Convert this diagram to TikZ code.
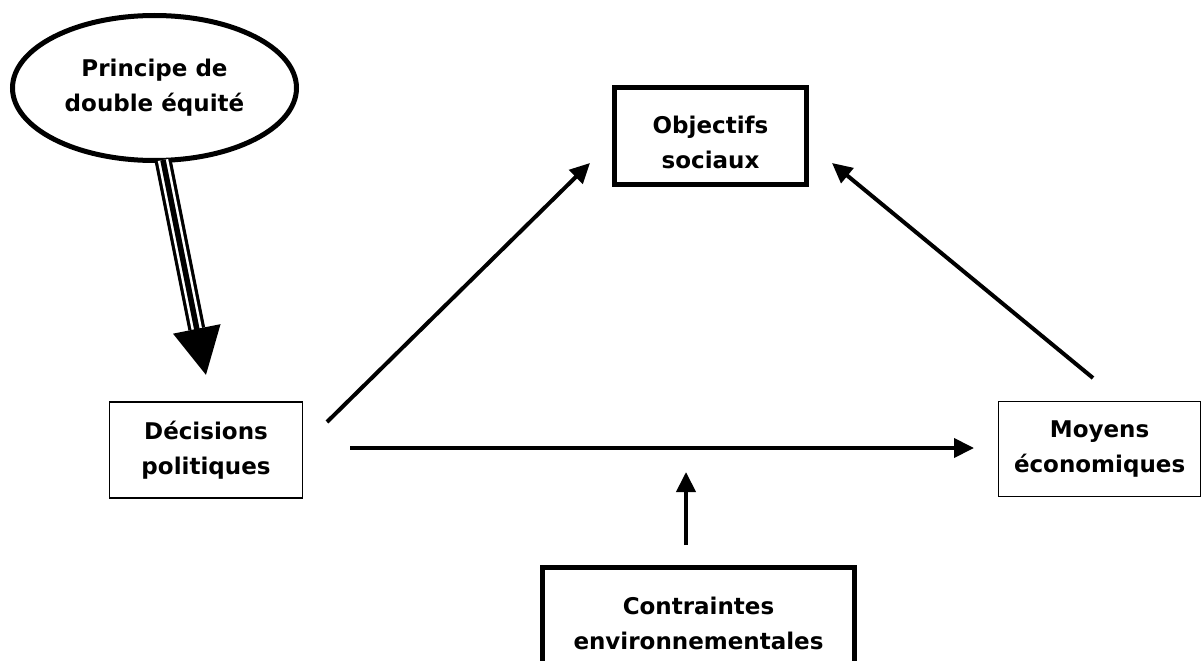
\documentclass[tikz,border=0pt]{standalone}
\usepackage{fontspec}
\setmainfont{DejaVu Sans}
\usetikzlibrary{arrows.meta,shapes.geometric,calc}
\tikzset{
  txt/.style={font=\fontsize{23}{35}\selectfont\bfseries, align=center, inner sep=0pt},
  thickbox/.style={draw, line width=5pt, rectangle, inner sep=0pt},
  thinbox/.style={txt, draw, line width=1.5pt, rectangle},
  arr/.style={line width=4pt, -{Triangle[length=20pt,width=19pt]}},
}
\begin{document}
\begin{tikzpicture}[x=1pt,y=-1pt]
\path[use as bounding box] (0,0) rectangle (1203,661);

% nodes
\node[txt, ellipse, draw, line width=5pt, minimum width=284pt, minimum height=145pt] (ell) at (154.5,88) {Principe de\\double équité};
\node[thickbox, minimum width=192pt, minimum height=97pt] (obj) at (710.5,136) {};
\node[txt] (objt) at (710.5,142.5) {Objectifs\\sociaux};
\node[thinbox, minimum width=193pt, minimum height=96pt] (dec) at (206,450) {Décisions\\politiques};
\node[thinbox, minimum width=201.75pt, minimum height=95pt] (moy) at (1099.6,449) {Moyens\\économiques};
\node[txt, minimum width=312pt] (con) at (698.5,623) {Contraintes\\environnementales};

% open-bottom frame of the last box
\coordinate (cbot) at (0,661);
\coordinate (ctop) at (0,567.5);
\draw[line width=5pt] (con.west |- cbot) -- (con.west |- ctop) -- (con.east |- ctop) -- (con.east |- cbot);

% triple arrow
\coordinate (ts) at (163,160);
\coordinate (tt) at (206,375);
\coordinate (tb) at ($(tt)!47pt!(ts)$);
\draw[line width=17pt] (ts) -- (tb);
\draw[line width=10.5pt, white] (ts) -- (tb);
\draw[line width=5.5pt, -{Triangle[length=47pt,width=47pt]}] (ts) -- (tt);

% arrows
\coordinate (a1s) at (327,422);
\coordinate (a1t) at (590,163);
\draw[arr] (a1s) -- (a1t);
\coordinate (a2s) at (1093,378);
\coordinate (a2t) at (832,163);
\draw[arr] (a2s) -- (a2t);
\coordinate (a3s) at (350,448);
\coordinate (a3t) at (974,448);
\draw[arr] (a3s) -- (a3t);
\coordinate (a4s) at (686,545);
\coordinate (a4t) at (686,472);
\draw[arr] (a4s) -- (a4t);
\end{tikzpicture}
\end{document}
